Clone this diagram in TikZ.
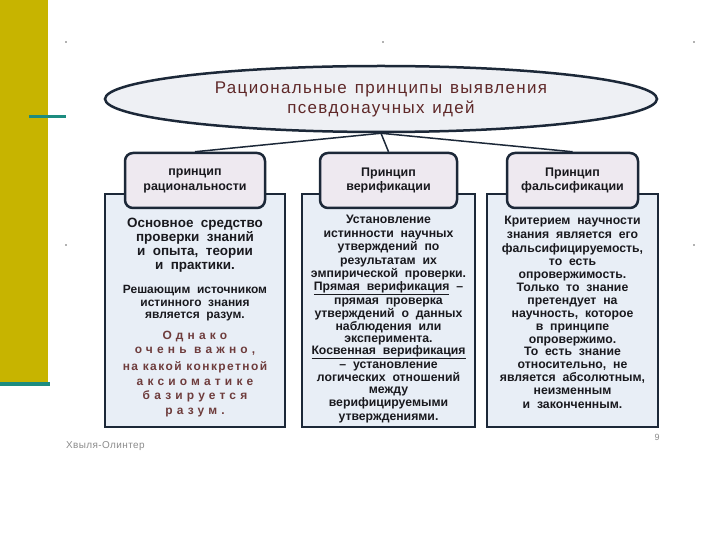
\documentclass[tikz,border=0pt]{standalone}
\usepackage{fontspec}
\setmainfont{Liberation Sans}
\newfontfamily\ttlf[LetterSpace=8,WordSpace=1.3]{Liberation Sans}
\newfontfamily\bodyf[WordSpace=1.5]{Liberation Sans}
\newfontfamily\bigf[WordSpace=2]{Liberation Sans}
\newfontfamily\spcA[LetterSpace=35]{Liberation Sans}
\newfontfamily\spcB[LetterSpace=12]{Liberation Sans}
\newfontfamily\footf[LetterSpace=4]{Liberation Sans}
\usetikzlibrary{shapes.geometric}
\definecolor{barolive}{RGB}{199,180,0}
\definecolor{barteal}{RGB}{28,140,128}
\definecolor{navy}{RGB}{28,40,56}
\definecolor{ellfill}{RGB}{238,240,244}
\definecolor{hdrfill}{RGB}{238,233,240}
\definecolor{bodyfill}{RGB}{232,238,246}
\definecolor{ttlcol}{RGB}{95,40,40}
\definecolor{spccol}{RGB}{110,60,60}
\definecolor{txtcol}{RGB}{25,25,30}
\definecolor{footcol}{RGB}{140,140,140}
\tikzset{
  hdr/.style={draw=navy, line width=2.5bp, rounded corners=8bp, fill=hdrfill,
    minimum height=55bp, align=center, inner sep=0pt, text=txtcol,
    font=\bfseries\fontsize{12.5}{15}\selectfont},
  bodybox/.style={draw=navy, line width=2bp, fill=bodyfill, inner sep=0pt, minimum height=233bp},
  btxt/.style={anchor=mid, inner sep=0pt, text=txtcol, font=\bodyf\bfseries\fontsize{12.3}{12}\selectfont},
  conn/.style={draw=navy, line width=1.5bp},
}
\begin{document}
\begin{tikzpicture}[x=1bp,y=-1bp]
\useasboundingbox (0,0) rectangle (720,540);
\fill[white] (0,0) rectangle (720,540);
% decoration
\fill[barolive] (0,0) rectangle (48,382);
\fill[barteal] (0,382) rectangle (50,386);
\fill[barteal] (29,115.5) rectangle (66,118.5);
\foreach \px/\py in {66/42, 383/42, 694/42, 66/245, 694/245}
  \fill[gray!60] (\px-0.8,\py-0.8) rectangle (\px+0.8,\py+0.8);
% title
\node[ellipse, draw=navy, line width=2.5bp, fill=ellfill, minimum width=552bp,
  minimum height=66bp, align=center, inner sep=0pt, text=ttlcol,
  font=\ttlf\fontsize{17}{20}\selectfont] (title) at (381,99)
  {Рациональные принципы выявления\\псевдонаучных идей};
% body boxes
\node[bodybox, minimum width=180bp] (b1) at (195,310.5) {};
\node[bodybox, minimum width=173bp] (b2) at (388.5,310.5) {};
\node[bodybox, minimum width=171bp] (b3) at (572.5,310.5) {};
% headers
\node[hdr, minimum width=140bp] (h1) at (195,180.5) {принцип\\рациональности};
\node[hdr, minimum width=137bp] (h2) at (388.5,180.5) {Принцип\\верификации};
\node[hdr, minimum width=131bp] (h3) at (572.5,180.5) {Принцип\\фальсификации};
% connectors
\draw[conn] (title.south) -- (h1.north);
\draw[conn] (title.south) -- (h2.north);
\draw[conn] (title.south) -- (h3.north);
% left box text
\foreach \y/\t [count=\i] in {225/{Основное средство}, 239/{проверки знаний},
    253/{и опыта, теории}, 267/{и практики.}}
  \node[btxt, font=\bigf\bfseries\fontsize{13.5}{14}\selectfont] (La\i) at (195,\y) {\t};
\foreach \y/\t [count=\i] in {291/{Решающим источником}, 304/{истинного знания},
    316/{является разум.}}
  \node[btxt, font=\bodyf\bfseries\fontsize{12}{12}\selectfont] (Lb\i) at (195,\y) {\t};
\foreach \y/\t [count=\i] in {337/{Однако}, 351/{очень важно,},
    383/{аксиоматике}, 397/{базируется}, 412/{разум.}}
  \node[btxt, text=spccol, font=\spcA\bfseries\fontsize{12}{14}\selectfont] (Lc\i) at (195,\y) {\t};
\node[btxt, text=spccol, font=\spcB\bfseries\fontsize{12}{14}\selectfont] (Ld) at (195,368) {на какой конкретной};
% middle box text
\foreach \y/\t [count=\i] in {221/{Установление}, 235/{истинности научных},
    248/{утверждений по}, 262/{результатам их}, 275/{эмпирической проверки.},
    288/{\underline{Прямая верификация} –}, 302/{прямая проверка},
    315/{утверждений о данных}, 328/{наблюдения или}, 340/{эксперимента.},
    352/{\underline{Косвенная верификация}}, 366/{– установление},
    379/{логических отношений}, 391/{между}, 404/{верифицируемыми},
    418/{утверждениями.}}
  \node[btxt] (M\i) at (388.5,\y) {\t};
% right box text
\foreach \y/\t [count=\i] in {222/{Критерием научности}, 236/{знания является его},
    250/{фальсифицируемость,}, 263/{то есть}, 276/{опровержимость.},
    289/{Только то знание}, 302/{претендует на}, 315/{научность, которое},
    328/{в принципе}, 341/{опровержимо.}, 353/{То есть знание},
    366/{относительно, не}, 379/{является абсолютным,}, 392/{неизменным},
    406/{и законченным.}}
  \node[btxt] (R\i) at (572.5,\y) {\t};
% footer
\node[anchor=west, inner sep=0pt, text=footcol, font=\footf\fontsize{10}{11}\selectfont] (foot) at (66,446) {Хвыля-Олинтер};
\node[inner sep=0pt, text=footcol, font=\fontsize{9}{10}\selectfont] (pnum) at (657,437) {9};
\end{tikzpicture}
\end{document}
